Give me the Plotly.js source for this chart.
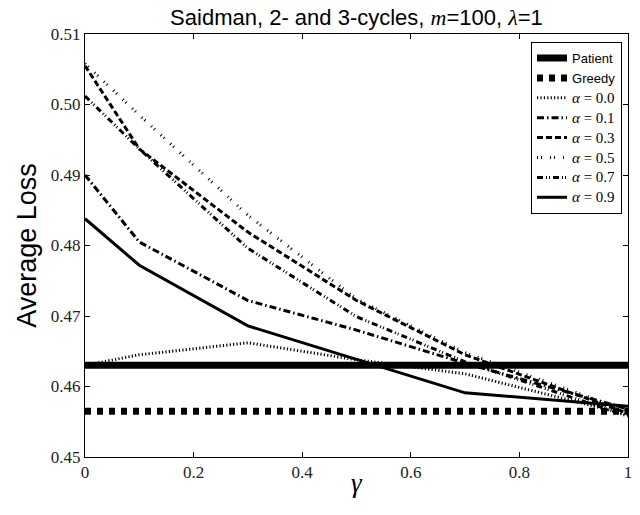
<!DOCTYPE html>
<html>
<head>
<meta charset="utf-8">
<script src="https://cdn.plot.ly/plotly-3.0.1.min.js"></script>
<style>html,body{margin:0;padding:0;background:#fff;}#chart{width:640px;height:515px;}</style>
</head>
<body>
<div id="chart"></div>
<script>
const gamma = [0, 0.1, 0.3, 0.5, 0.7, 1.0];
const patient = [0.4630, 0.4630, 0.4630, 0.4630, 0.4630, 0.4630];
const greedy  = [0.4565, 0.4565, 0.4565, 0.4565, 0.4565, 0.4565];
const alpha00 = [0.4630, 0.4645, 0.4662, 0.4638, 0.4618, 0.4560];
const alpha01 = [0.4900, 0.4805, 0.4722, 0.4680, 0.4633, 0.4568];
const alpha03 = [0.5055, 0.4937, 0.4819, 0.4722, 0.4645, 0.4562];
const alpha05 = [0.5058, 0.4985, 0.4843, 0.4724, 0.4648, 0.4565];
const alpha07 = [0.5012, 0.4937, 0.4796, 0.4699, 0.4635, 0.4558];
const alpha09 = [0.4838, 0.4772, 0.4686, 0.4638, 0.4591, 0.4572];
const xTicks = [0, 0.2, 0.4, 0.6, 0.8, 1];
const xTickText = ['0', '0.2', '0.4', '0.6', '0.8', '1'];
const yTicks = [0.45, 0.46, 0.47, 0.48, 0.49, 0.50, 0.51];
const yTickText = ['0.45', '0.46', '0.47', '0.48', '0.49', '0.50', '0.51'];

const serif = "'Liberation Serif', 'DejaVu Serif', serif";
const sans = "'Liberation Sans', Arial, sans-serif";
function alphaLabel(v) {
  return '<span style="font-family:Liberation Serif;font-size:15px"><i>α</i> = ' + v + '</span>';
}

const traces = [
  {name: 'Patient', y: patient, line: {color: '#000', width: 7, dash: 'solid'}},
  {name: 'Greedy', y: greedy, line: {color: '#000', width: 7, dash: '6px,6px'}},
  {name: alphaLabel('0.0'), y: alpha00, line: {color: '#000', width: 3, dash: '1.2px,2.2px'}},
  {name: alphaLabel('0.1'), y: alpha01, line: {color: '#000', width: 3, dash: '7px,3px,1.5px,3px'}},
  {name: alphaLabel('0.3'), y: alpha03, line: {color: '#000', width: 3, dash: '6px,3px'}},
  {name: alphaLabel('0.5'), y: alpha05, line: {color: '#000', width: 3, dash: '1px,3px,1px,8px'}},
  {name: alphaLabel('0.7'), y: alpha07, line: {color: '#000', width: 3, dash: '6px,3px,1px,2px,1px,3px'}},
  {name: alphaLabel('0.9'), y: alpha09, line: {color: '#000', width: 3, dash: 'solid'}}
].map(t => Object.assign({x: gamma, type: 'scatter', mode: 'lines'}, t));

const axisCommon = {
  showline: true, linecolor: '#000', linewidth: 1, mirror: 'ticks',
  ticks: 'inside', ticklen: 5, tickwidth: 1, tickcolor: '#000',
  showgrid: false, zeroline: false,
  tickfont: {family: serif, size: 17, color: '#222'}
};

const layout = {
  width: 640, height: 515,
  margin: {l: 85, r: 12, t: 34, b: 58},
  paper_bgcolor: '#fff', plot_bgcolor: '#fff',
  showlegend: true,
  title: {
    text: 'Saidman, 2- and 3-cycles, <span style="font-family:Liberation Serif"><i>m</i></span>=100, <span style="font-family:Liberation Serif"><i>λ</i></span>=1',
    font: {family: sans, size: 22, color: '#000'},
    x: 0.557, xanchor: 'center', y: 0.981, yanchor: 'top'
  },
  xaxis: Object.assign({}, axisCommon, {
    range: [0, 1], tickvals: xTicks, ticktext: xTickText
  }),
  yaxis: Object.assign({}, axisCommon, {
    range: [0.45, 0.51], tickvals: yTicks, ticktext: yTickText,
    title: {text: 'Average Loss', font: {family: sans, size: 27, color: '#000'}, standoff: 6}
  }),
  annotations: [{
    text: '<i>γ</i>', xref: 'paper', yref: 'paper', x: 0.5, y: -0.062,
    xanchor: 'center', yanchor: 'middle', showarrow: false,
    font: {family: serif, size: 27, color: '#000'}
  }],
  legend: {
    x: 0.989, y: 0.981, xanchor: 'right', yanchor: 'top',
    bgcolor: '#fff', bordercolor: '#000', borderwidth: 1,
    font: {family: sans, size: 13, color: '#000'},
    tracegroupgap: 0, itemwidth: 30
  }
};

Plotly.newPlot('chart', traces, layout, {displayModeBar: false, staticPlot: true});
</script>
</body>
</html>
